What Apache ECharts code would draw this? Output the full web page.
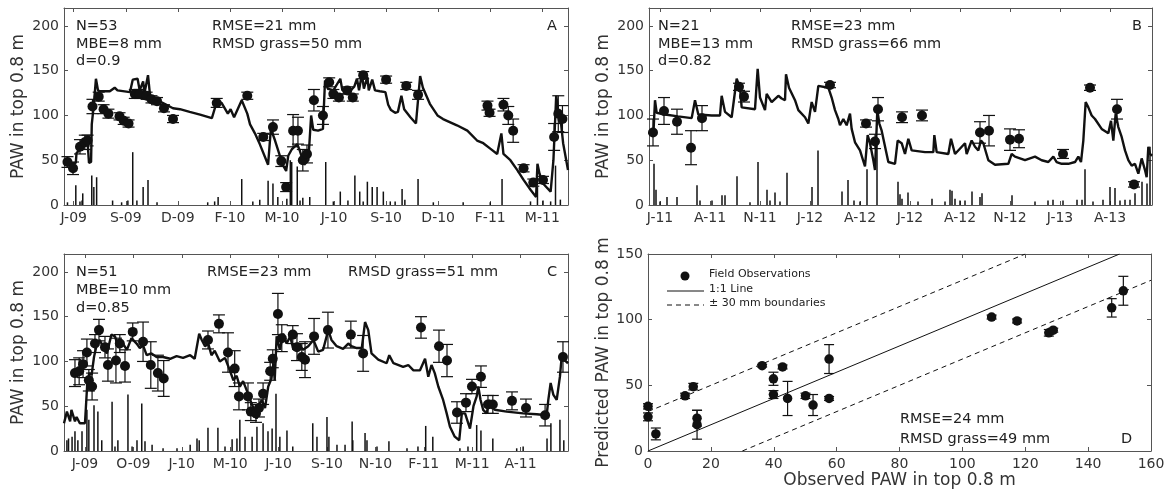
<!DOCTYPE html>
<html>
<head>
<meta charset="utf-8">
<script src="https://cdn.jsdelivr.net/npm/echarts@6/dist/echarts.min.js"></script>
<style>
  html, body { margin: 0; padding: 0; background: #fff; }
  #chart { width: 1175px; height: 496px; }
</style>
</head>
<body>
<div id="chart"></div>
<script>
// ---------- data ----------
// time axes are in days counted from the first labelled tick; labelled ticks every 75 days
const tickStepDays = 75;
const pawTicks = [0, 50, 100, 150, 200];

// Panel A
const tickLabelsA = ['J-09', 'S-09', 'D-09', 'F-10', 'M-10', 'J-10', 'S-10', 'D-10', 'F-11', 'M-11'];
const modelA = [
  [-14,45],[-6,46],[3,47],[4,58],[9,62],[13,68],[17,72],[20,70],[22,47],[25,48],[26,90],[29,112],[32,141],
  [35,128],[38,127],[52,127],[59,131],[63,128],[81,126],[85,140],[92,141],[95,128],[100,138],[102,125],
  [107,145],[110,122],[117,118],[128,114],[143,108],[153,107],[167,104],[182,101],[199,97],[206,115],
  [213,114],[222,102],[226,107],[231,98],[242,117],[250,102],[254,90],[261,80],[268,68],[280,45],[284,85],
  [290,72],[301,45],[306,38],[309,55],[314,62],[322,68],[326,60],[332,45],[338,50],[342,100],[345,84],
  [352,83],[359,85],[362,139],[366,130],[374,128],[384,141],[387,128],[398,127],[404,132],[408,141],
  [411,128],[415,146],[418,130],[423,143],[425,128],[430,140],[434,128],[441,127],[449,126],[453,112],
  [457,106],[463,103],[467,104],[472,122],[476,107],[485,98],[493,91],[499,144],[503,131],[513,113],
  [524,100],[532,96],[552,89],[567,83],[581,72],[590,69],[600,63],[610,57],[616,80],[619,57],[629,50],
  [639,39],[648,28],[658,17],[666,9],[668,46],[671,35],[676,24],[687,15],[691,50],[695,122],[698,105],
  [701,98],[705,69],[712,39]
];
const observedA = [
  [-9,48,6],[-1,41,7],[9,65,8],[16,70,8],[20,72,6],[27,110,8],[36,121,5],[43,107,5],[50,102,5],[66,99,4],
  [72,94,4],[79,91,4],[88,124,5],[95,124,5],[105,122,4],[112,118,4],[120,116,4],[130,108,4],[143,96,4],
  [206,114,5],[250,122,4],[273,76,4],[287,87,8],[299,49,6],[306,20,5],[316,83,18],[323,83,15],[330,50,12],
  [336,57,10],[346,117,12],[359,100,10],[368,137,5],[374,124,5],[382,120,4],[394,128,4],[402,120,4],
  [417,145,4],[450,140,4],[479,133,4],[496,123,5],[596,111,5],[599,103,4],[619,112,7],[626,100,10],
  [633,83,13],[648,41,4],[662,25,4],[676,28,4],[692,76,15],[698,102,20],[704,96,15]
];
const rainA = [
  [-9,3],[3,22],[9,4],[12,5],[13,13],[26,33],[29,20],[33,31],[56,5],[69,3],[78,5],[85,59],[91,5],[100,20],
  [107,28],[120,3],[193,3],[203,4],[208,9],[242,29],[258,4],[268,6],[280,27],[287,24],[294,9],[307,7],
  [312,50],[314,48],[322,43],[326,5],[330,8],[340,9],[363,48],[374,4],[384,15],[395,5],[405,33],[412,15],
  [417,4],[423,26],[430,20],[437,20],[446,15],[456,4],[463,4],[473,18],[477,6],[496,29],[518,3],[561,3],
  [600,3],[617,29],[658,4],[668,20],[676,5],[687,4],[694,44],[701,6]
];

// Panel B
const tickLabelsB = ['J-11', 'A-11', 'N-11', 'J-12', 'A-12', 'J-12', 'A-12', 'N-12', 'J-13', 'A-13'];
const modelB = [
  [-17,81],[-10,78],[-7.5,117],[-5,103],[7.5,101],[27,99],[47.5,97],[52.5,117],[57.5,101],[77.5,100],
  [90,100],[92.5,122],[97.5,104],[107.5,98],[115,141],[120,131],[122.5,109],[142.5,107],[146.5,152],
  [150,120],[157.5,106],[160,124],[167.5,115],[177.5,122],[182.5,119],[187.5,117],[189,146],[193.5,131],
  [202.5,117],[207.5,106],[217.5,98],[222.5,91],[227.5,115],[232.5,104],[237.5,133],[252.5,131],
  [257.5,120],[262.5,106],[267.5,96],[270,89],[275,96],[280,89],[285,102],[287.5,85],[292.5,70],[300,61],
  [307.5,43],[311.5,78],[315,69],[320,50],[322.5,39],[326,106],[329,91],[332.5,83],[342.5,48],[352.5,46],
  [356.5,72],[362.5,69],[367.5,57],[372.5,74],[377.5,61],[397.5,59],[410,59],[411.5,78],[415,59],
  [432.5,57],[436.5,74],[442.5,57],[457.5,69],[460,57],[467.5,72],[472.5,65],[477.5,61],[481.5,72],
  [485,69],[492.5,50],[502.5,45],[522.5,46],[527.5,57],[532.5,54],[547.5,50],[562.5,54],[572.5,50],
  [582.5,48],[590,54],[595,48],[602.5,46],[612.5,46],[622.5,48],[627.5,54],[631.5,48],[635,72],
  [638.5,115],[642.5,109],[647.5,100],[652.5,96],[662.5,85],[672.5,80],[676.5,94],[680,72],[683.5,102],
  [687.5,87],[692.5,76],[697.5,61],[702.5,50],[707.5,44],[712.5,46],[717.5,35],[722.5,52],[727.5,39],
  [730,31],[732.5,65],[735,57],[738,55]
];
const observedB = [
  [-10.5,81,15],[6,105,15],[25.5,93,14],[46.5,64,19],[63,97,14],[118.5,132,4],[126,121,6],[255,134,3],
  [309,91,4],[322.5,71,8],[327,107,13],[363,98,6],[393,100,6],[480,81,12],[493.5,83,17],[525,73,12],
  [538.5,74,10],[604.5,57,5],[645,131,3],[685.5,107,11],[711,23,3]
];
const rainB = [
  [-9,46],[-6,17],[0,4],[10.5,9],[25.5,9],[55.5,22],[60,5],[78,5],[93,11],[97.5,11],[115.5,32],[135,3],
  [147,48],[160.5,17],[165,5],[172.5,14],[180,4],[190.5,36],[228,20],[237,61],[273,15],[282,28],[291,5],
  [300,4],[310.5,40],[325.5,72],[357,26],[360,12],[363,7],[372,14],[387,4],[408,7],[427.5,4],[435,17],
  [438,16],[442.5,7],[450,5],[457.5,5],[468,15],[480,9],[483,13],[528,11],[562.5,4],[582,5],[589.5,6],
  [604.5,5],[625.5,6],[633,6],[637.5,40],[649.5,4],[664.5,6],[675,20],[682.5,19],[690,5],[697.5,6],
  [705,6],[712.5,13],[723,26],[730.5,24],[735,65]
];

// Panel C
const tickLabelsC = ['J-09', 'O-09', 'J-10', 'M-10', 'J-10', 'S-10', 'N-10', 'F-11', 'M-11', 'A-11'];
const modelC = [
  [-32.5,31],[-28,44],[-23,33],[-21,46],[-15.5,33],[-13,38],[-8,31],[0,31],[3.6,76],[6.7,87],[10.3,85],
  [14,105],[18,118],[23,124],[28,116],[34,109],[41,130],[46.5,128],[52,115],[57,122],[65,113],[72,126],
  [80,120],[85,115],[90,118],[95.6,107],[103,109],[111,105],[121,105],[132,103],[142,106],[152,104],
  [163,107],[170,103],[177,131],[181,124],[186,117],[191,120],[196,107],[201,112],[209,100],[217,104],
  [225,89],[230,79],[235,84],[240,72],[245,78],[250.5,68],[256,57],[261,48],[266,36],[268.5,50],[274,57],
  [279,48],[284,72],[289,81],[292,98],[294,79],[297,128],[302,113],[307,131],[312.5,120],[318,128],
  [323,113],[330.5,120],[338,113],[346,117],[354,124],[361.5,111],[369,113],[377,135],[382,124],[390,117],
  [400,114],[408,120],[413,117],[421,115],[429,115],[434,144],[439,135],[444,109],[454.5,102],[467.5,98],
  [471.5,107],[478,98],[493,94],[501,96],[509,90],[519,90],[527,103],[532,83],[537,96],[542,87],
  [547.5,72],[555,57],[560.5,42],[565.6,27],[573,16],[580,12],[584,42],[589,42],[596.6,25],[602,50],
  [607,61],[609.5,72],[613,57],[617,46],[622.5,42],[626.5,57],[630,50],[635,46],[653.5,44],[679,42],
  [700,41],[715.5,40],[718,57],[721.6,76],[725.7,63],[731,57],[736,83],[738.7,105],[744,101],[748.5,98]
];
const observedC = [
  [-15.5,87,15],[-9,89,15],[-3,97,15],[3,110,15],[6,79,12],[11,72,15],[15.5,120,10],[21.7,135,12],
  [31,116,12],[35.6,96,18],[48,101,25],[54,120,10],[62,95,18],[74,133,10],[90,122,22],[102,96,26],
  [113,87,20],[122,81,20],[190.6,124,10],[207.6,142,10],[221.6,110,22],[232,92,20],[238.6,61,15],
  [252.6,61,15],[257,44,10],[265,42,10],[269.6,48,10],[276,64,12],[287,89,10],[291,103,10],[299,153,23],
  [305,126,15],[322,130,10],[328.5,116,15],[336,105,15],[341,102,20],[355,128,20],[376.5,135,20],
  [412,130,15],[431,109,20],[520.7,138,12],[548.6,117,18],[561,101,18],[576.5,43,12],[590.4,54,10],
  [599.7,72,8],[613.6,83,12],[624.5,52,10],[632,52,10],[661.7,56,10],[683.4,48,10],[713,40,12],
  [740.7,105,17]
];
const rainC = [
  [-28,12],[-25.5,14],[-20,16],[-15.5,22],[-11,12],[-4.6,22],[3,46],[6,35],[14,51],[20,44],[26,12],
  [42,55],[46.5,5],[51,12],[66.6,63],[73,5],[80.6,12],[88,53],[93,11],[104,7],[121,3],[142.6,3],[163,7],
  [173.6,14],[177,12],[190.6,26],[206,26],[217,5],[228,13],[235.5,14],[240,35],[248,16],[259,16],
  [266.5,27],[276,31],[283.6,22],[290,25],[296,64],[302,16],[313,23],[322,5],[353,31],[359.5,16],
  [375,38],[378,16],[390.5,7],[403,7],[414,33],[415,12],[434,20],[437,12],[452.5,5],[471,11],[499,3],
  [516,5],[528,28],[539,16],[581,3],[593.5,5],[607,29],[613.6,23],[632,14],[669,3],[679,5],[716,14],
  [722,31],[736,35],[742,12]
];

// Panel D: observed vs predicted PAW (mm) with predicted error
const scatterD = [
  [0,34,2],[0,26,3],[2.5,13,4.5],[11.8,42,2],[14.4,49,2.5],[15.6,25,6],[15.6,20,11],[36.3,65,1],
  [39.9,55,5],[39.9,43,3],[42.8,64,1.5],[44.4,40,13],[50.1,42,2],[52.5,35,8],[57.6,70,11],[57.6,40,1.5],
  [109.3,102,1.5],[117.4,99,1.5],[127.5,90,2.5],[128.9,92,1.5],[147.5,109,7],[151.2,122,11]
];
const oneToOneLine = [[0, 0], [150, 150]];
const upperBoundary = [[0, 30], [120, 150]];
const lowerBoundary = [[30, 0], [160, 130]];
const legendLabelsD = ['Field Observations', '1:1 Line', '\u00b1 30 mm boundaries'];

// ---------- styling helpers ----------
const FONT = 'DejaVu Sans';
const AXIS_COLOR = '#555';
const TEXT_COLOR = '#333';
const INK = '#111';
const DASH = [5, 4];
const NOTE_SIZE = 14.5;

const grids = [
  { left: 64,  top: 8,   width: 504, height: 197 },  // A
  { left: 649, top: 8,   width: 503, height: 197 },  // B
  { left: 64,  top: 254, width: 504, height: 197 },  // C
  { left: 648, top: 254, width: 503, height: 197 }   // D
];

function tickDays(labels) { return labels.map((_, i) => i * tickStepDays); }

function axisLineStyle() {
  return { show: true, onZero: false, lineStyle: { color: AXIS_COLOR, width: 1 } };
}

function timeAxes(gridIndex, labels, min, max) {
  const ticks = tickDays(labels);
  const base = {
    type: 'value', gridIndex, min, max,
    splitLine: { show: false },
    axisLine: axisLineStyle(),
    axisTick: { show: true, inside: true, length: 4, customValues: ticks, lineStyle: { color: AXIS_COLOR } }
  };
  return [
    Object.assign({}, base, {
      position: 'bottom',
      axisLabel: {
        show: true, margin: 6, customValues: ticks, color: TEXT_COLOR, fontFamily: FONT, fontSize: 14,
        formatter: v => labels[Math.round(v / tickStepDays)] || ''
      }
    }),
    Object.assign({}, base, { position: 'top', axisLabel: { show: false } })
  ];
}

function pawAxes(gridIndex) {
  const base = {
    type: 'value', gridIndex, min: 0, max: 220,
    splitLine: { show: false },
    axisLine: axisLineStyle(),
    axisTick: { show: true, inside: true, length: 4, customValues: pawTicks, lineStyle: { color: AXIS_COLOR } }
  };
  return [
    Object.assign({}, base, {
      position: 'left',
      axisLabel: { show: true, margin: 5, customValues: pawTicks, color: TEXT_COLOR, fontFamily: FONT, fontSize: 14 },
      name: 'PAW in top 0.8 m',
      nameLocation: 'middle', nameGap: 37,
      nameTextStyle: { color: TEXT_COLOR, fontFamily: FONT, fontSize: 17 }
    }),
    Object.assign({}, base, { position: 'right', axisLabel: { show: false } })
  ];
}

function modelLine(axisIndex, data) {
  return {
    type: 'line', xAxisIndex: axisIndex, yAxisIndex: axisIndex, data,
    showSymbol: false, symbol: 'none', z: 2,
    lineStyle: { color: INK, width: 2.4 }, silent: true
  };
}

function rainBars(axisIndex, data) {
  return {
    type: 'custom', xAxisIndex: axisIndex, yAxisIndex: axisIndex, data, z: 1, silent: true,
    encode: { x: 0, y: 1 },
    renderItem(params, api) {
      const b = api.coord([api.value(0), 0]);
      const t = api.coord([api.value(0), api.value(1)]);
      return { type: 'line', shape: { x1: b[0], y1: b[1], x2: t[0], y2: t[1] },
               style: { stroke: INK, lineWidth: 1.5 } };
    }
  };
}

function errorBars(axisIndex, data, capWidth, lw) {
  return {
    type: 'custom', xAxisIndex: axisIndex, yAxisIndex: axisIndex, data, z: 3, silent: true,
    encode: { x: 0, y: 1 },
    renderItem(params, api) {
      const x = api.value(0), y = api.value(1), e = api.value(2);
      const lo = api.coord([x, y - e]);
      const hi = api.coord([x, y + e]);
      const h = capWidth / 2;
      const st = { stroke: INK, lineWidth: lw };
      return { type: 'group', children: [
        { type: 'line', shape: { x1: lo[0], y1: lo[1], x2: hi[0], y2: hi[1] }, style: st },
        { type: 'line', shape: { x1: lo[0] - h, y1: lo[1], x2: lo[0] + h, y2: lo[1] }, style: st },
        { type: 'line', shape: { x1: hi[0] - h, y1: hi[1], x2: hi[0] + h, y2: hi[1] }, style: st }
      ]};
    }
  };
}

function dots(axisIndex, data, size) {
  return {
    type: 'scatter', xAxisIndex: axisIndex, yAxisIndex: axisIndex,
    data: data.map(d => [d[0], d[1]]), symbol: 'circle', symbolSize: size, z: 4, silent: true,
    itemStyle: { color: INK, opacity: 1 }
  };
}

function label(text, left, top, size) {
  return { type: 'text', left, top, silent: true,
           style: { text, fill: '#222', font: (size || NOTE_SIZE) + 'px "' + FONT + '"' } };
}

// ---------- axes ----------
const xAxes = [
  ...timeAxes(0, tickLabelsA, -14, 712),
  ...timeAxes(1, tickLabelsB, -16.5, 738),
  ...timeAxes(2, tickLabelsC, -32.5, 748.5)
];
const yAxes = [...pawAxes(0), ...pawAxes(1), ...pawAxes(2)];

const dTicksX = [0, 20, 40, 60, 80, 100, 120, 140, 160];
const dTicksY = [0, 50, 100, 150];
const dAxisBase = {
  type: 'value', gridIndex: 3, splitLine: { show: false }, axisLine: axisLineStyle()
};
xAxes.push(
  Object.assign({}, dAxisBase, {
    position: 'bottom', min: 0, max: 160,
    axisTick: { show: true, inside: true, length: 4, customValues: dTicksX, lineStyle: { color: AXIS_COLOR } },
    axisLabel: { show: true, margin: 6, customValues: dTicksX, color: TEXT_COLOR, fontFamily: FONT, fontSize: 14 },
    name: 'Observed PAW in top 0.8 m', nameLocation: 'middle', nameGap: 21,
    nameTextStyle: { color: TEXT_COLOR, fontFamily: FONT, fontSize: 17 }
  }),
  Object.assign({}, dAxisBase, {
    position: 'top', min: 0, max: 160,
    axisTick: { show: true, inside: true, length: 4, customValues: dTicksX, lineStyle: { color: AXIS_COLOR } },
    axisLabel: { show: false }
  })
);
yAxes.push(
  Object.assign({}, dAxisBase, {
    position: 'left', min: 0, max: 150,
    axisTick: { show: true, inside: true, length: 4, customValues: dTicksY, lineStyle: { color: AXIS_COLOR } },
    axisLabel: { show: true, margin: 5, customValues: dTicksY, color: TEXT_COLOR, fontFamily: FONT, fontSize: 14 },
    name: 'Predicted PAW in top 0.8 m', nameLocation: 'middle', nameGap: 35,
    nameTextStyle: { color: TEXT_COLOR, fontFamily: FONT, fontSize: 17 }
  }),
  Object.assign({}, dAxisBase, {
    position: 'right', min: 0, max: 150,
    axisTick: { show: true, inside: true, length: 4, customValues: dTicksY, lineStyle: { color: AXIS_COLOR } },
    axisLabel: { show: false }
  })
);

// ---------- series ----------
const series = [
  rainBars(0, rainA), modelLine(0, modelA), errorBars(0, observedA, 12, 1.2), dots(0, observedA, 10),
  rainBars(2, rainB), modelLine(2, modelB), errorBars(2, observedB, 12, 1.2), dots(2, observedB, 10),
  rainBars(4, rainC), modelLine(4, modelC), errorBars(4, observedC, 12, 1.2), dots(4, observedC, 10),
  {
    type: 'line', xAxisIndex: 6, yAxisIndex: 6, data: oneToOneLine,
    symbol: 'none', z: 2, silent: true, lineStyle: { color: INK, width: 1 }
  },
  {
    type: 'line', xAxisIndex: 6, yAxisIndex: 6, data: upperBoundary,
    symbol: 'none', z: 2, silent: true, lineStyle: { color: INK, width: 1, type: DASH }
  },
  {
    type: 'line', xAxisIndex: 6, yAxisIndex: 6, data: lowerBoundary,
    symbol: 'none', z: 2, silent: true, lineStyle: { color: INK, width: 1, type: DASH }
  },
  errorBars(6, scatterD, 10, 1.2),
  dots(6, scatterD, 9.5)
];

// ---------- annotations ----------
const graphics = [
  label('N=53', 76, 19), label('MBE=8 mm', 76, 37), label('d=0.9', 76, 54),
  label('RMSE=21 mm', 212, 19), label('RMSD grass=50 mm', 212, 37), label('A', 547, 19),

  label('N=21', 658, 19), label('MBE=13 mm', 658, 37), label('d=0.82', 658, 54),
  label('RMSE=23 mm', 791, 19), label('RMSD grass=66 mm', 791, 37), label('B', 1132, 19),

  label('N=51', 76, 265), label('MBE=10 mm', 76, 283), label('d=0.85', 76, 301),
  label('RMSE=23 mm', 207, 265), label('RMSD grass=51 mm', 348, 265), label('C', 547, 265),

  label('RMSE=24 mm', 900, 412), label('RMSD grass=49 mm', 900, 432), label('D', 1121, 432),

  // key for panel D
  { type: 'circle', silent: true, shape: { cx: 685, cy: 276, r: 4.5 }, style: { fill: INK } },
  { type: 'line', silent: true, shape: { x1: 667, y1: 291, x2: 704, y2: 291 }, style: { stroke: INK, lineWidth: 1 } },
  { type: 'line', silent: true, shape: { x1: 667, y1: 305, x2: 704, y2: 305 }, style: { stroke: INK, lineWidth: 1, lineDash: DASH } },
  label(legendLabelsD[0], 709, 269, 11),
  label(legendLabelsD[1], 709, 284, 11),
  label(legendLabelsD[2], 709, 298, 11)
];

const chart = echarts.init(document.getElementById('chart'), null, { renderer: 'canvas' });
chart.setOption({
  animation: false,
  backgroundColor: '#fff',
  grid: grids,
  xAxis: xAxes,
  yAxis: yAxes,
  series,
  graphic: graphics
});
</script>
</body>
</html>
